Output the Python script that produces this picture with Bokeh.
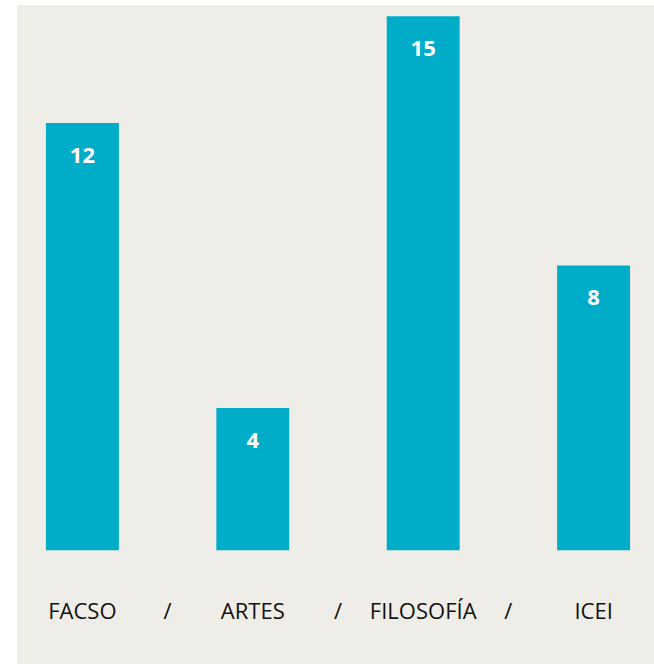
from bokeh.plotting import figure
from bokeh.models import Range1d, FixedTicker, Spacer, ColumnDataSource
from bokeh.layouts import row, column
from bokeh.core.properties import value
from bokeh.embed import file_html
from bokeh.resources import INLINE
import numpy as np

categories = ["FACSO", "ARTES", "FILOSOFÍA", "ICEI"]
counts = [12, 4, 15, 8]
separator = "/"

BG = "#efede8"
BAR = "#00adc8"

xs = np.arange(len(categories))
src = ColumnDataSource(dict(x=xs, top=counts, label=[str(c) for c in counts]))

p = figure(width=637, height=659, output_backend="svg", toolbar_location=None,
           x_range=Range1d(-0.3809, 3.3574), y_range=Range1d(0, 15.3))
p.min_border_left = 0
p.min_border_right = 0
p.min_border_top = 0
p.min_border_bottom = 114
p.background_fill_color = None
p.border_fill_color = None
p.styles = {"background-color": BG}
p.outline_line_color = None
p.grid.visible = False
p.yaxis.visible = False

p.vbar(x="x", top="top", bottom=0, width=0.428, source=src, color=BAR, line_color=None)
p.text(x="x", y="top", text="label", source=src, text_color="white",
       text_font=value("Open Sans"), text_font_style="bold", text_font_size="22px",
       text_align="center", text_baseline="middle", y_offset=32)

ticks = []
overrides = {}
for i, c in enumerate(categories):
    ticks.append(float(i))
    overrides[float(i)] = c
    if i < len(categories) - 1:
        ticks.append(i + 0.5)
        overrides[i + 0.5] = separator
ax = p.xaxis[0]
ax.ticker = FixedTicker(ticks=ticks)
ax.major_label_overrides = overrides
ax.axis_line_color = None
ax.major_tick_line_color = None
ax.minor_tick_line_color = None
ax.major_tick_out = 0
ax.major_tick_in = 0
ax.major_label_standoff = 44
ax.major_label_text_font = "Open Sans"
ax.major_label_text_font_size = "22px"
ax.major_label_text_color = "#111111"

layout = column(Spacer(width=654, height=5),
                row(Spacer(width=17, height=659), p))
open("out.html", "w").write(file_html(layout, INLINE))
